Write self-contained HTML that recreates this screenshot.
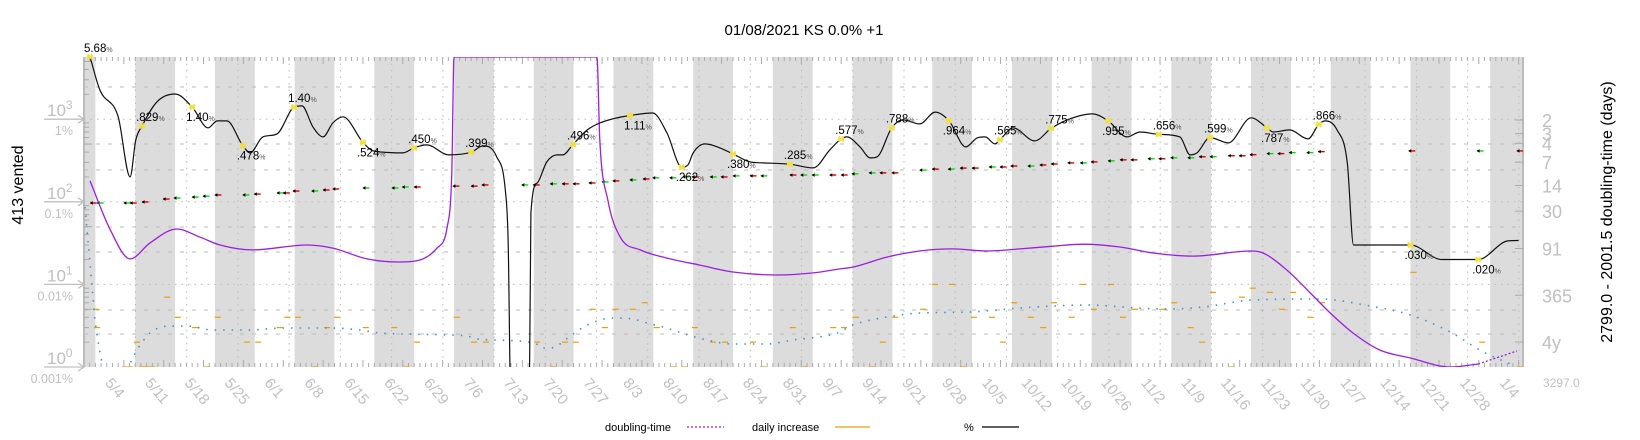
<!DOCTYPE html>
<html><head><meta charset="utf-8"><style>
html,body{margin:0;padding:0;background:#fff;}
svg{display:block;font-family:"Liberation Sans","DejaVu Sans",sans-serif;}
</style></head><body>
<svg id="chart" width="1640" height="440" viewBox="0 0 1640 440" xmlns="http://www.w3.org/2000/svg">
<defs><clipPath id="plotclip"><rect x="84" y="57" width="1439" height="310"/></clipPath></defs>
<text x="804" y="35" font-size="15" text-anchor="middle" fill="#000">01/08/2021 KS 0.0% +1</text>
<text transform="translate(23,185) rotate(-90)" font-size="16" text-anchor="middle" fill="#000">413 vented</text>
<text transform="translate(1612,212) rotate(-90)" font-size="16" text-anchor="middle" fill="#000">2799.0 - 2001.5 doubling-time (days)</text>
<text x="1543" y="387" font-size="12" fill="#c0c0c0">3297.0</text>
<g id="bands"></g><g id="grid"></g><g id="axes"></g>
<g id="series" clip-path="url(#plotclip)"></g>
<g id="marks"></g>
<g>
<text x="605" y="431" font-size="11" fill="#000">doubling-time</text>
<line x1="687" y1="427" x2="724" y2="427" stroke="#9b1fe0" stroke-width="1.2" stroke-dasharray="2 2"/>
<text x="752" y="431" font-size="11" fill="#000">daily increase</text>
<line x1="835" y1="427" x2="870" y2="427" stroke="#e8a000" stroke-width="1.2"/>
<text x="964" y="431" font-size="11" fill="#000">%</text>
<line x1="982" y1="427" x2="1019" y2="427" stroke="#000" stroke-width="1.2"/>
</g>
</svg>
<script>
const dateLabels=["5/4","5/11","5/18","5/25","6/1","6/8","6/15","6/22","6/29","7/6","7/13","7/20","7/27","8/3","8/10","8/17","8/24","8/31","9/7","9/14","9/21","9/28","10/5","10/12","10/19","10/26","11/2","11/9","11/16","11/23","11/30","12/7","12/14","12/21","12/28","1/4"];
const countTicks=[0,1,2,3];
const pctTickLabels=["1%","0.1%","0.01%","0.001%"];
const dtTicks=[2,3,4,7,14,30,91,365,1461];
const dtTickLabels=["2","3","4","7","14","30","91","365","4y"];
const pctDays=[1.05,2.8,6.0,8.1,9.1,10.2,12.8,16.0,19.0,21.8,23.4,25.1,27.9,29.2,31.4,33.9,36.9,38.3,40.2,42.0,43.7,45.5,49.0,50.8,56.0,58.0,60.2,64.1,68.0,70.1,72.5,74.0,74.5,75.0,78.2,78.5,79.6,81.3,83.1,84.1,85.9,88.4,90.6,92.9,95.9,99.9,102.4,105.0,106.1,107.0,109.1,111.7,114.0,117.0,119.3,124.0,128.1,131.0,133.0,134.0,136.3,138.1,139.3,141.9,143.9,146.8,149.5,151.9,154.9,156.9,158.3,160.0,160.9,163.2,167.0,169.9,172.7,177.1,179.9,183.2,185.5,188.8,192.5,194.3,195.5,197.8,201.0,205.0,207.8,208.9,211.8,215.0,216.9,218.0,220.1,221.9,223.0,233.0,238.5,244.9,250.1,252.0];
const pctValues=[5.68,2.26,1.07,0.20,0.561,0.829,1.62,2.02,1.40,0.785,0.953,0.953,0.478,0.391,0.61,0.664,1.40,1.45,0.807,0.61,0.90,1.07,0.524,0.413,0.391,0.450,0.488,0.370,0.399,0.475,0.350,0.139,0.0346,0.0003,0.0003,0.073,0.169,0.304,0.370,0.370,0.496,0.742,0.90,1.01,1.11,1.19,0.68,0.262,0.280,0.391,0.502,0.449,0.380,0.304,0.296,0.285,0.257,0.425,0.577,0.61,0.462,0.340,0.350,0.788,0.98,0.877,1.22,0.964,0.462,0.594,0.61,0.502,0.565,0.785,0.546,0.775,0.98,1.16,0.955,0.61,0.70,0.656,0.61,0.370,0.391,0.599,0.516,1.04,0.787,0.70,0.742,0.578,0.866,0.953,0.742,0.296,0.030,0.030,0.020,0.020,0.0336,0.034];
const markerDays=[1.05,10.2,19.0,27.9,36.9,49.0,58.0,68.0,85.9,95.9,105.0,114.0,124.0,133.0,141.9,151.9,160.9,169.9,179.9,188.8,197.8,207.8,216.9,233.0,244.9];
const markerValues=[5.68,0.829,1.40,0.478,1.40,0.524,0.450,0.399,0.496,1.11,0.262,0.380,0.285,0.577,0.788,0.964,0.565,0.775,0.955,0.656,0.599,0.787,0.866,0.030,0.020];
const markerBelow=[0,0,1,1,0,1,0,0,0,1,1,1,0,0,0,1,0,0,1,0,0,1,0,1,1];
const dtDays=[1.05,4.6,8.1,11.6,16.3,20.4,23.9,29.7,39.2,43.7,49.7,55.5,59.0,62.0,63.8,64.6,65.0,90.1,90.6,92.0,94.2,97.7,102.4,108.2,114.0,121.7,128.1,132.8,135.1,141.1,146.8,152.6,158.6,164.4,170.2,175.5,182.0,187.8,194.8,205.0,207.1,211.3,215.4,218.9,222.9,227.6,233.0,240.0,244.9];
const dtValues=[12.2,52,124,77,51,65,82,95,82,90,124,136,128,90,48,9.7,0.2,0.2,3.6,21.5,65,95,121,149,183,200,188,167,158,117,98,92,98,92,85,80,87,104,114,98,104,173,341,618,1120,1857,2356,3076,2813];
const dtTailDays=[244.9,251.7];
const dtTailValues=[2813,1914];
const blueDays=[0.18,0.53,1.05,1.58,1.93,5.0,8.1,9.3,11.6,14.8,18.1,22.7,28.6,35.0,43.7,48.5,52.0,57.8,64.3,67.3,69.0,79.2,80.4,81.9,85.7,88.4,92.9,96.4,98.9,101.7,106.1,109.4,114.0,120.0,124.5,132.3,135.1,141.1,146.8,155.6,164.4,170.2,176.2,185.0,190.8,196.6,205.3,217.1,225.9,233.0,240.0,245.8,251.4];
const blueValues=[86.5,45.6,18.2,7.0,3.7,0.6,1.12,1.6,2.58,3.13,3.13,2.8,2.8,2.97,2.97,2.8,2.58,2.5,2.44,2.37,2.18,1.95,1.70,1.70,2.44,3.23,3.92,3.81,3.41,3.05,2.44,2.12,1.90,1.90,2.12,2.58,3.23,4.03,4.5,4.63,5.18,5.48,5.63,5.18,5.04,5.33,6.47,6.65,5.48,4.26,2.65,1.52,1.03];
const incDays=[2.1,2.3,7.2,8.1,9.3,10.2,11.1,11.9,14.6,16.5,19.5,21.6,23.5,28.6,30.6,34.4,35.7,37.6,40.6,42.7,44.4,49.5,54.5,56.6,58.5,65.5,68.5,70.6,79.6,82.4,84.5,86.4,89.4,91.5,93.4,96.4,98.5,100.6,103.5,105.4,107.3,110.5,112.6,117.5,119.3,124.5,126.6,131.6,133.5,135.6,138.4,140.3,142.5,147.4,149.5,152.5,154.4,156.3,159.5,161.4,163.4,166.3,168.5,170.4,173.5,175.5,177.4,180.4,182.5,184.6,189.4,191.5,194.4,196.4,198.3,201.5,203.4,205.3,208.3,210.4,212.4,215.4,217.5,233.5,245.6,252.2];
const incValues=[5,3,1,1,2,1,1,1,7,4,3,1,4,2,2,3,4,4,1,3,4,3,3,1,2,4,2,2,2,1,2,2,5,3,5,5,6,3,1,1,3,2,2,2,1,3,1,3,3,4,1,2,4,5,10,10,1,4,4,2,6,4,3,6,4,10,5,10,4,5,5,6,3,2,8,1,7,9,8,5,8,4,6,14,2,1];
const arrowDays=[1.1,2.3,7.0,8.1,10.2,13.9,15.8,19.0,20.9,23.0,27.9,29.9,33.9,35.0,36.7,40.0,42.0,43.7,49.0,54.1,55.9,58.0,64.8,68.0,69.9,76.9,78.9,81.9,84.0,85.9,88.7,91.0,92.9,95.9,98.2,99.9,102.9,105.2,106.8,110.0,111.9,114.0,117.0,118.9,124.0,125.9,127.9,131.0,133.0,134.9,137.9,139.8,141.9,146.8,149.0,151.8,153.9,156.0,159.0,160.9,162.8,165.8,167.9,169.9,172.8,175.0,176.9,179.9,182.0,183.9,186.9,188.8,190.9,193.9,195.9,197.8,201.0,202.9,204.8,207.8,209.7,211.7,214.8,216.8,232.7,244.7,251.7];
const arrowValues=[96.7,96.7,96.7,96.7,99.6,108,111,114,117,121,121,124,128,128,135,135,139,143,147,147,151,151,155,155,160,160,160,165,165,165,169,174,179,184,189,195,195,200,200,200,200,206,206,206,211,211,211,211,211,218,224,224,224,242,249,249,256,256,264,264,271,271,279,287,296,296,304,313,322,322,332,332,341,341,351,351,361,361,372,383,383,394,394,405,413,413,413];
const arrowUp=[0,1,1,0,0,0,1,1,1,0,1,0,1,0,0,1,0,0,1,1,1,0,0,0,0,1,0,1,0,0,0,1,0,1,0,1,1,1,0,1,0,1,0,1,0,1,1,0,0,1,1,0,0,1,0,1,0,0,1,0,0,1,0,0,0,1,0,1,0,0,1,0,1,1,0,1,0,0,0,1,0,1,1,0,0,1,0];

const NS="http://www.w3.org/2000/svg";
const L=84,R=1523,T=57,B=367,PXD=5.693;
function X(d){return L+d*PXD;}
function Yc(v){return B-Math.log10(v)*82.6;}
function Yp(p){return Yc(p*1000);}
function Yd(t){return Math.max(T,Math.min(B,120+(Math.log10(t)-0.301)*77.5));}
function el(tag,attrs,parent){const e=document.createElementNS(NS,tag);for(const k in attrs)e.setAttribute(k,attrs[k]);parent.appendChild(e);return e;}
function smooth(pts){
  const n=pts.length;if(n<2)return "";
  const dx=[],m=[],s=[];
  for(let i=0;i<n-1;i++){dx[i]=pts[i+1][0]-pts[i][0];s[i]=(pts[i+1][1]-pts[i][1])/(dx[i]||1e-6);}
  m[0]=s[0];m[n-1]=s[n-2];
  for(let i=1;i<n-1;i++){m[i]=(s[i-1]*s[i]<=0)?0:(s[i-1]+s[i])/2;}
  for(let i=0;i<n-1;i++){if(s[i]===0){m[i]=0;m[i+1]=0;continue;}const a=m[i]/s[i],b=m[i+1]/s[i];const h=a*a+b*b;if(h>9){const t=3/Math.sqrt(h);m[i]=t*a*s[i];m[i+1]=t*b*s[i];}}
  let d="M"+pts[0][0].toFixed(1)+","+pts[0][1].toFixed(1);
  for(let i=0;i<n-1;i++){const h=dx[i]/3;d+=" C"+(pts[i][0]+h).toFixed(1)+","+(pts[i][1]+m[i]*h).toFixed(1)+" "+(pts[i+1][0]-h).toFixed(1)+","+(pts[i+1][1]-m[i+1]*h).toFixed(1)+" "+pts[i+1][0].toFixed(1)+","+pts[i+1][1].toFixed(1);}
  return d;
}
const bands=document.getElementById('bands');
for(let k=-1;k<18;k++){
  const d0=9+14*k,x0=Math.max(L,X(d0)),x1=Math.min(R,X(d0+7));
  if(x1<=x0)continue;
  const r=el('rect',{x:x0,y:T,width:x1-x0,height:B-T,fill:'#dcdcdc'},bands);
  
  
}
const grid=document.getElementById('grid');
[87,144,170,227,252,310,334].forEach(y=>{const g=el('line',{x1:L,x2:R,y1:y,y2:y,stroke:'#bbb','stroke-width':1,'stroke-dasharray':'4 8'},grid);});
countTicks.forEach(p=>{const y=Yc(Math.pow(10,p));if(y<B-1){const g=el('line',{x1:L,x2:R,y1:y,y2:y,stroke:'#bbb','stroke-width':1,'stroke-dasharray':'1.5 5'},grid);}});
for(let k=0;k<28;k++){const x=X(9.04+9*k);if(x>R)break;const g=el('line',{x1:x,x2:x,y1:T,y2:B,stroke:'#bbb','stroke-width':1,'stroke-dasharray':'1.5 5'},grid);}
const axes=document.getElementById('axes');
for(let d=0;X(d)<=R;d++){const x=X(d);const h=(d%7===0)?7:4;
  const t1=el('line',{x1:x,x2:x,y1:T,y2:T+h,stroke:'#aaa','stroke-width':1},axes);
  const t2=el('line',{x1:x,x2:x,y1:B,y2:B-h,stroke:'#aaa','stroke-width':1},axes);}
const lb=el('line',{x1:L,x2:L,y1:T,y2:B,stroke:'#bbb','stroke-width':2},axes);
const rb=el('line',{x1:R,x2:R,y1:T,y2:B,stroke:'#bbb','stroke-width':2},axes);
for(let p=0;p<4;p++){for(let m=2;m<10;m++){const y=Yc(m*Math.pow(10,p));if(y<T)continue;const t=el('line',{x1:L,x2:L+(m===5?8:5),y1:y,y2:y,stroke:'#aaa','stroke-width':1},axes);}}
countTicks.forEach((p,i)=>{const y=Yc(Math.pow(10,p));
  const a=el('path',{d:`M44,${y} H84 M78,${y-4} L84,${y} L78,${y+4}`,stroke:'#c0c0c0','stroke-width':1.3,fill:'none'},axes);
  const t=el('text',{x:47,y:y-3,'font-size':17,fill:'#c0c0c0'},axes);
  t.textContent='10';const sp=el('tspan',{dy:-7,'font-size':12},t);sp.textContent=String(p);
  const pl=el('text',{x:73,y:y+16,'font-size':12.5,fill:'#c0c0c0','text-anchor':'end'},axes);pl.textContent=pctTickLabels[3-i];
});
dtTicks.forEach((t,i)=>{const y=Yd(t);
  const tk=el('line',{x1:R-8,x2:R,y1:y,y2:y,stroke:'#aaa','stroke-width':1},axes);
  const tx=el('text',{x:1542,y:y+7,'font-size':18,fill:'#c0c0c0'},axes);tx.textContent=dtTickLabels[i];});
dateLabels.forEach((s,k)=>{const x=X(4.6+7*k)-2;
  const t=el('text',{transform:`translate(${x},380) rotate(50)`,'font-size':15,fill:'#c0c0c0',dy:5},axes);
  t.textContent=s;});
const series=document.getElementById('series');
// daily increase
incDays.forEach((d,i)=>{const y=Yc(incValues[i]);const x=X(d);
  const m=el('line',{x1:x-3,x2:x+3,y1:y,y2:y,stroke:'#e8a000','stroke-width':1.2},series);
  });
// blue dotted
const bp=el('path',{d:smooth(blueDays.map((d,i)=>[X(d),Yc(blueValues[i])])),stroke:'#3d95cf',fill:'none','stroke-width':1.6,'stroke-dasharray':'1.5 7'},series);

// arrows
arrowDays.forEach((d,i)=>{const x=X(d),y=Yc(arrowValues[i]);
  const g=el('g',{},series);
  el('line',{x1:x,x2:x+6.5,y1:y,y2:y,stroke:arrowUp[i]?'#00e000':'#e00000','stroke-width':1.4},g);
  el('path',{d:`M${x-0.5},${y} L${x+2.5},${y-1.8} L${x+2.5},${y+1.8} Z`,fill:'#000'},g);});
// doubling time
const dp=el('path',{d:smooth(dtDays.map((d,i)=>[X(d),Yd(dtValues[i])])),stroke:'#9b1fe0',fill:'none','stroke-width':1.3},series);

const dt2=el('path',{d:smooth(dtTailDays.map((d,i)=>[X(d),Yd(dtTailValues[i])])),stroke:'#9b1fe0',fill:'none','stroke-width':1.3,'stroke-dasharray':'2 2'},series);

// percent
const pp=el('path',{d:smooth(pctDays.map((d,i)=>[X(d),Yp(pctValues[i])])),stroke:'#111',fill:'none','stroke-width':1.2},series);

// markers
const marks=document.getElementById('marks');
markerDays.forEach((d,i)=>{const x=X(d),y=Yp(markerValues[i]);const v=markerValues[i];
  const s=el('path',{d:`M${x-2.5},${y-2.5} L${x+2.5},${y+2.5} M${x-2.5},${y+2.5} L${x+2.5},${y-2.5} M${x-3},${y} H${x+3}`,stroke:'#f2e040','stroke-width':2},marks);
  
  const lab=v>=1?v.toFixed(2):'.'+Math.round(v*1000).toString().padStart(3,'0');
  const t=el('text',{x:x-6,y:markerBelow[i]?y+14:y-5,'font-size':11.5,fill:'#000'},marks);
  
  t.textContent=lab;const sp=el('tspan',{'font-size':7,fill:'#555'},t);sp.textContent='%';});
</script>
</body></html>
